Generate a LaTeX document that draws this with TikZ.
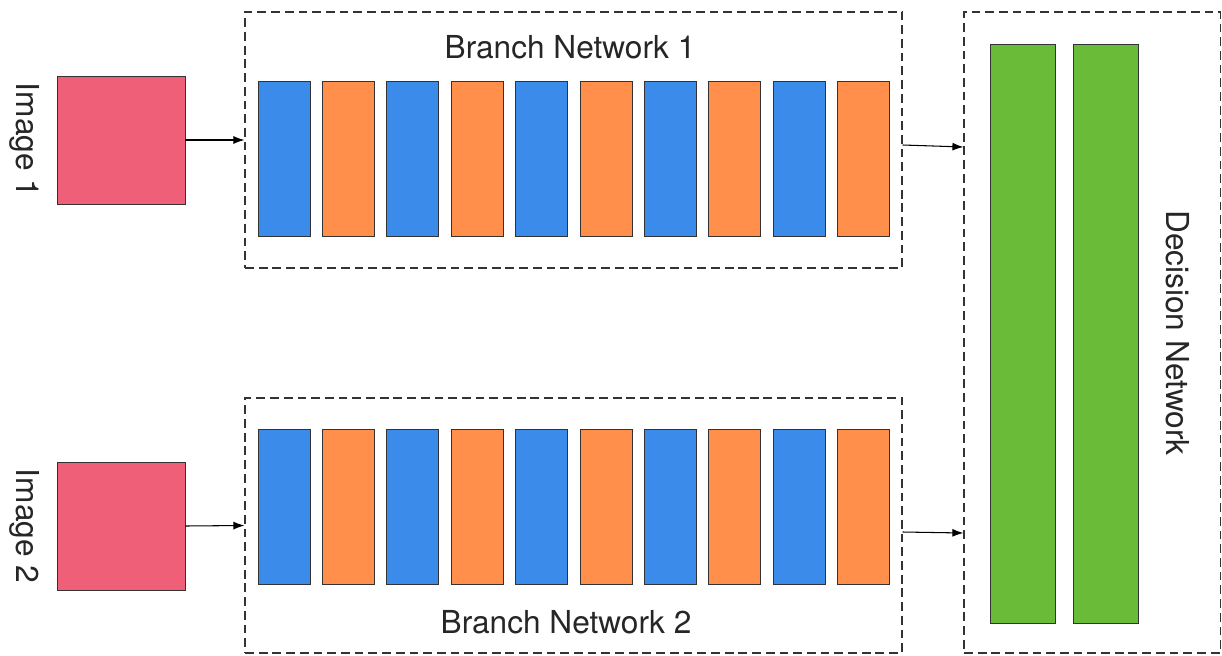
\documentclass[tikz,border=0pt]{standalone}
\usepackage{fontspec}
\setmainfont{TeX Gyre Heros}
\usetikzlibrary{positioning,arrows.meta}

\definecolor{imgred}{RGB}{239,96,120}
\definecolor{barblue}{RGB}{58,139,234}
\definecolor{barorange}{RGB}{255,143,74}
\definecolor{decgreen}{RGB}{106,188,56}

\tikzset{
  imgbox/.style={draw=black!80, fill=imgred, minimum width=2.56cm, minimum height=2.56cm, inner sep=0pt},
  layerbar/.style={draw=black!80, minimum width=1.04cm, minimum height=3.1cm, inner sep=0pt},
  decbar/.style={draw=black!80, fill=decgreen, minimum width=1.3cm, minimum height=11.58cm, inner sep=0pt},
  netbox/.style={draw=black!80, line width=0.7pt, dash pattern=on 5pt off 2.8pt, inner sep=0pt},
  flow/.style={-{Latex[length=2.2mm,width=1.6mm]}, line width=0.6pt}
}

\begin{document}
\begin{tikzpicture}[x=0.02cm, y=-0.02cm, font=\fontsize{18}{22}\selectfont, text=black!85]
  \useasboundingbox (0,0) rectangle (1222,655);

  % input images
  \node[imgbox] (img1) at (121,140) {};
  \node[imgbox] (img2) at (121,526) {};
  \node[rotate=-90] (img1lbl) at (25,140) {Image 1};
  \node[rotate=-90] (img2lbl) at (25,526) {Image 2};

  % branch networks
  \node[netbox, minimum width=13.14cm, minimum height=5.12cm] (br1) at (573.5,140) {};
  \node[netbox, minimum width=13.14cm, minimum height=5.1cm] (br2) at (573.5,525.5) {};
  \node (br1lbl) at (570,47) {Branch Network 1};
  \node (br2lbl) at (566,622) {Branch Network 2};

  % layers, blue and orange in turn
  \foreach \i in {0,...,9} {
    \pgfmathsetmacro{\bx}{284+64.4*\i}
    \ifodd\i \def\bcol{barorange}\else \def\bcol{barblue}\fi
    \node[layerbar, fill=\bcol] (l1-\i) at (\bx,158.5) {};
    \node[layerbar, fill=\bcol] (l2-\i) at (\bx,507) {};
  }

  % decision network
  \node[netbox, minimum width=5.13cm, minimum height=12.82cm] (dec) at (1092.25,332.5) {};
  \node[decbar] (d1) at (1022.5,333.5) {};
  \node[decbar] (d2) at (1105.5,333.5) {};
  \node[rotate=-90] (declbl) at (1178,333) {Decision Network};

  % arrows
  \draw[flow] (img1.east) -- (br1.west);
  \draw[flow] (img2.east) -- (br2.west);
  \draw[flow] ([yshift=-0.1cm]br1.east) -- ([yshift=-0.14cm]br1.east -| dec.west);
  \draw[flow] ([yshift=-0.13cm]br2.east) -- ([yshift=-0.15cm]br2.east -| dec.west);

\end{tikzpicture}
\end{document}
